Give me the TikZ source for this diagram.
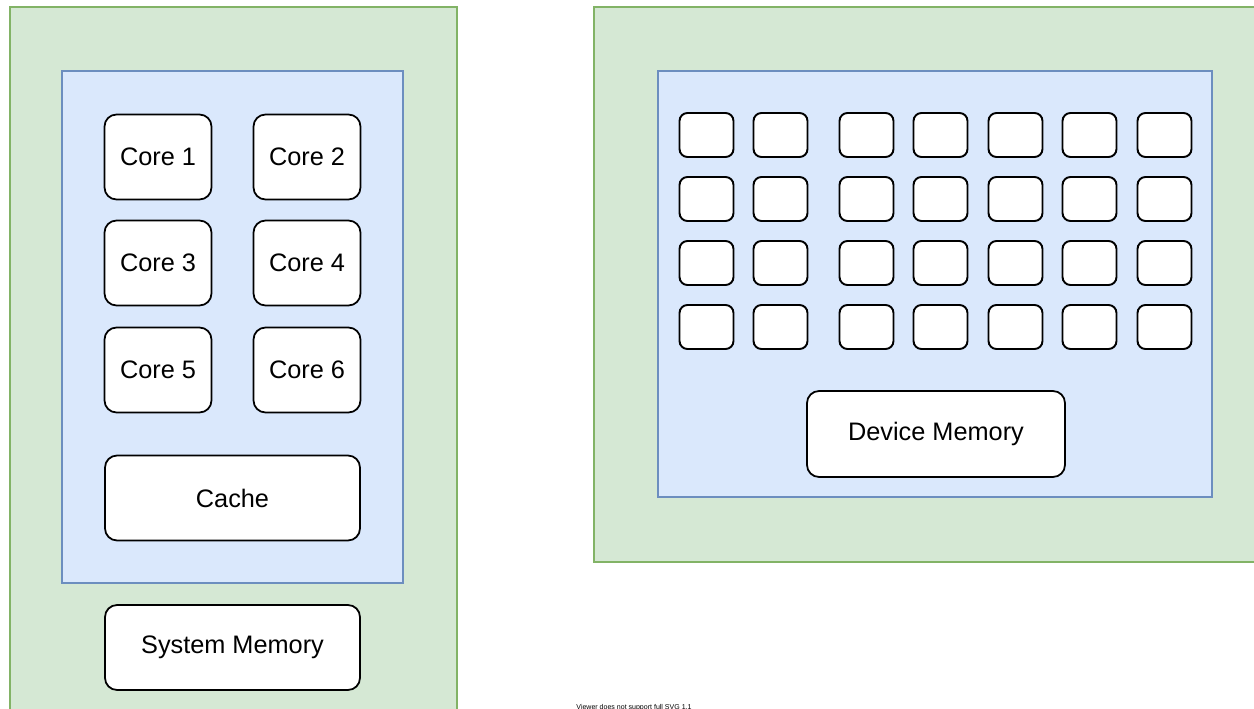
\documentclass[tikz,border=0pt]{standalone}
\usepackage{fontspec}
\setmainfont{Liberation Sans}
\definecolor{hostfill}{HTML}{D5E8D4}
\definecolor{hostline}{HTML}{82B366}
\definecolor{chipfill}{HTML}{DAE8FC}
\definecolor{chipline}{HTML}{6C8EBF}
\begin{document}
\begin{tikzpicture}[x=0.02cm,y=-0.02cm,
            every node/.style={inner sep=0pt,outer sep=0pt},
            host/.style={draw=hostline,fill=hostfill,line width=0.8pt,anchor=north west},
            chip/.style={draw=chipline,fill=chipfill,line width=0.8pt,anchor=north west},
            unit/.style={draw=black,fill=white,line width=1pt,rounded corners=0.24cm,
                         minimum width=2.14cm,minimum height=1.7cm,
                         font=\fontsize{14.4}{16}\selectfont},
            wideunit/.style={unit,minimum width=5.1cm},
            smx/.style={draw=black,fill=white,line width=1.1pt,rounded corners=0.16cm,
                        minimum width=1.08cm,minimum height=0.88cm}
          ]
          \clip (0,0) rectangle (1254,709);
          \fill[white] (0,0) rectangle (1254,709);

          \node[host,minimum width=8.94cm,minimum height=14.3cm] (cpuhost) at (10,7) {};
          \node[chip,minimum width=6.82cm,minimum height=10.24cm] (cpuchip) at (62,71) {};
          \node[unit] (core1) at (158,157) {Core 1};
          \node[unit] (core2) at (307,157) {Core 2};
          \node[unit] (core3) at (158,263) {Core 3};
          \node[unit] (core4) at (307,263) {Core 4};
          \node[unit] (core5) at (158,370) {Core 5};
          \node[unit] (core6) at (307,370) {Core 6};
          \node[wideunit] (cache) at (232.5,498) {Cache};
          \node[wideunit] (sysmem) at (232.5,647.5) {System Memory};

          \node[host,minimum width=13.4cm,minimum height=11.1cm] (gpuhost) at (594,7) {};
          \node[chip,minimum width=11.08cm,minimum height=8.52cm] (gpuchip) at (658,71) {};
          \foreach \col/\x in {1/706.5,2/780.5,3/866.5,4/940.5,5/1015.5,6/1089.5,7/1164.5}
            \foreach \row/\y in {1/135,2/199,3/263,4/327}
              \node[smx] (sm-\row-\col) at (\x,\y) {};
          \node[wideunit,minimum width=5.16cm,minimum height=1.72cm] (devmem) at (936,434) {Device Memory};

          \node[anchor=base,font=\fontsize{4}{4.5}\selectfont] (svgnote) at (634,709.5) {Viewer does not support full SVG 1.1};
\end{tikzpicture}
\end{document}
